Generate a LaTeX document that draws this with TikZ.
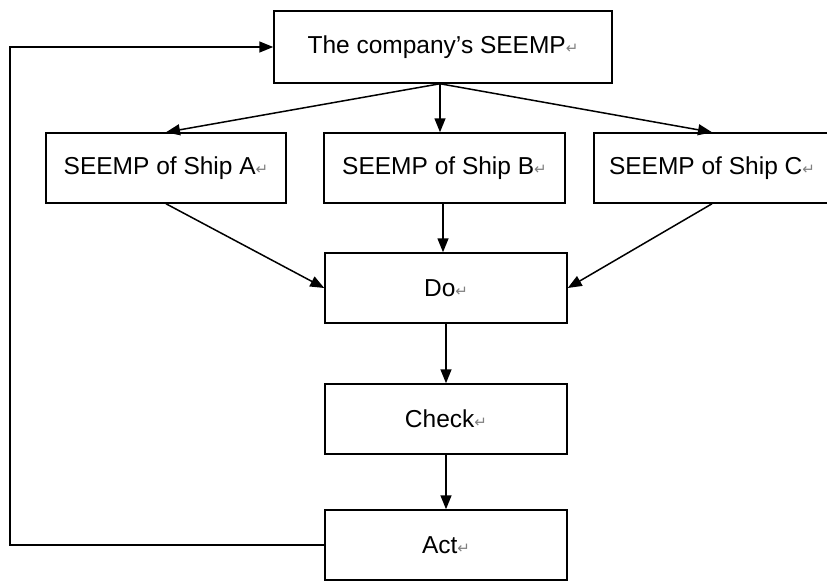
\documentclass[tikz,border=0pt]{standalone}
\usepackage{fontspec}
\setmainfont{Liberation Sans}
\newfontfamily\symfont{DejaVu Sans}
\usetikzlibrary{arrows.meta,calc}
\newcommand{\ret}{{\symfont\color{gray}\fontsize{15}{15}\selectfont ↵}}
\begin{document}
\begin{tikzpicture}[x=1pt,y=-1pt,
  box/.style={draw, line width=1.5pt, inner sep=0pt, font=\fontsize{24.5}{28}\selectfont},
  conn/.style={line width=1.5pt, -{Triangle[length=14pt,width=11pt]}}]
\useasboundingbox (0,0) rectangle (827,581);
\clip (0,0) rectangle (827,581);
\fill[white] (0,0) rectangle (827,581);
\node[box, minimum width=338pt, minimum height=72pt] (top) at (443,47) {The company’s SEEMP\ret};
\node[box, minimum width=240pt, minimum height=70pt] (shipA) at (166,168) {SEEMP of Ship A\ret};
\node[box, minimum width=241pt, minimum height=70pt] (shipB) at (444.5,168) {SEEMP of Ship B\ret};
\node[box, minimum width=236pt, minimum height=70pt] (shipC) at (712,168) {SEEMP of Ship C\ret};
\node[box, minimum width=242pt, minimum height=70pt] (do) at (446,288) {Do\ret};
\node[box, minimum width=242pt, minimum height=70pt] (check) at (446,419) {Check\ret};
\node[box, minimum width=242pt, minimum height=70pt] (act) at (446,545) {Act\ret};
\coordinate (fb1) at (10,545);
\coordinate (fb2) at (10,47);
\draw[conn] (top.south) ++(-3,0) coordinate (ts) -- (shipA.north);
\draw[conn] (ts) -- (ts |- shipB.north);
\draw[conn] (ts) -- (shipC.north);
\draw[conn] (shipA.south) -- (do.west);
\draw[conn] (shipB.south -| do.north) ++(-3,0) coordinate (bs) -- (bs |- do.north);
\draw[conn] (shipC.south) -- (do.east);
\draw[conn] (do.south) -- (check.north);
\draw[conn] (check.south) -- (act.north);
\draw[conn] (act.west) -- (fb1) -- (fb2) -- (top.west);
\end{tikzpicture}
\end{document}
